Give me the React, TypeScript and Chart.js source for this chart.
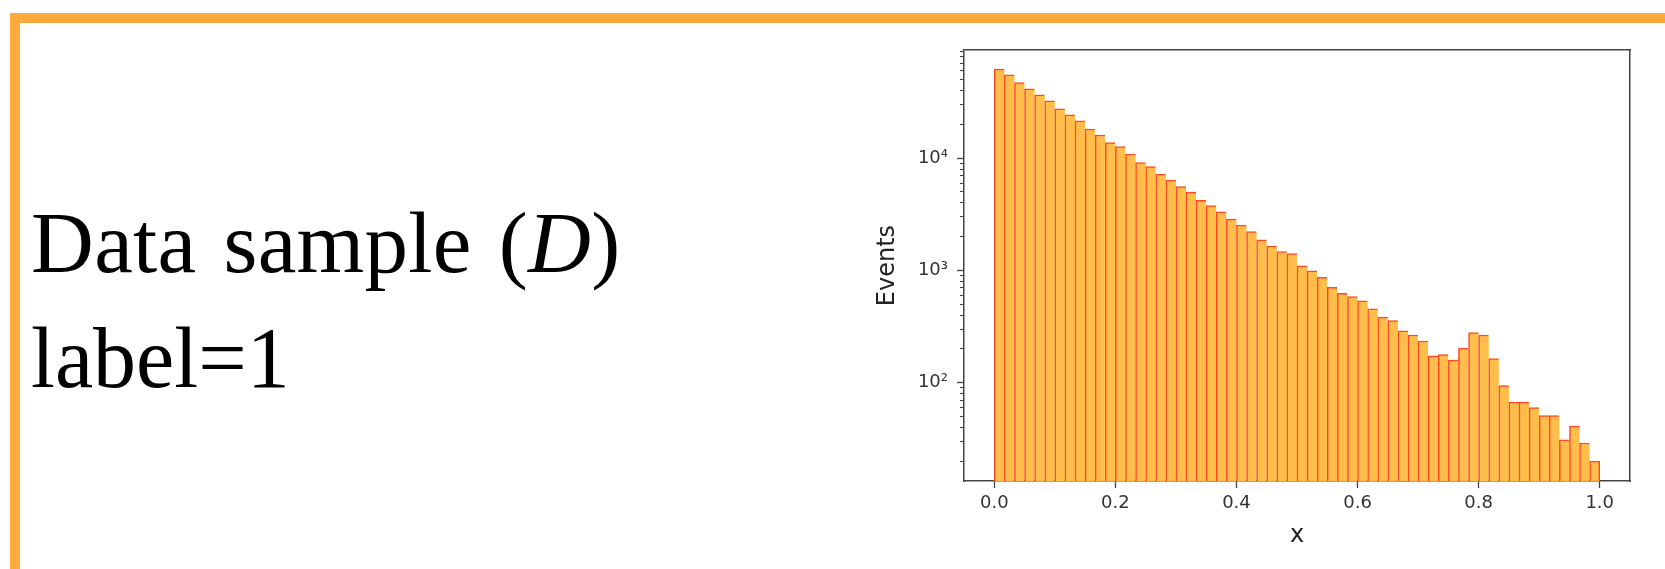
import React, { useEffect, useRef } from "react";
import { Chart, registerables } from "chart.js";

Chart.register(...registerables);

// Histogram of x on [0, 1], 60 equal-width bins, log-scaled counts.
const binCount = 60;
const binLow = 0;
const binHigh = 1;

const eventCounts = [
  62100, 55200, 47200, 41500, 36600, 32400, 27500, 24300, 21500, 18200,
  16100, 13800, 12700, 10900, 9140, 8420, 7200, 6370, 5580, 4980,
  4220, 3780, 3320, 2860, 2530, 2220, 1870, 1650, 1470, 1410,
  1100, 990, 870, 708, 626, 584, 535, 454, 383, 357,
  289, 266, 235, 173, 178, 159, 203, 279, 266, 164,
  94, 67, 67, 60, 51, 51, 31, 41, 29, 20,
];

const xTickValues = [0, 0.2, 0.4, 0.6, 0.8, 1.0];
const xRange = [-0.05, 1.05];

const yMajorTicks = [100, 1000, 10000];
const yMajorLabels = ["10\u00B2", "10\u00B3", "10\u2074"];
const yMinorTicks = [
  20, 30, 40, 50, 60, 70, 80, 90,
  200, 300, 400, 500, 600, 700, 800, 900,
  2000, 3000, 4000, 5000, 6000, 7000, 8000, 9000,
  20000, 30000, 40000, 50000, 60000, 70000, 80000, 90000,
];
const yRange = [13.3, 92000];

const xTitle = "x";
const yTitle = "Events";

const headingLine = "Data sample (";
const headingSymbol = "D";
const subLine = "label=1";

const barFill = "rgb(255, 190, 76)";
const barEdge = "rgb(255, 72, 36)";
const axisColor = "#444";
const tickTextColor = "#333";
const titleColor = "#222";
const frameColor = "#FFAA3B";
const sansFont = "'DejaVu Sans', sans-serif";

function HistogramChart() {
  const canvasRef = useRef<HTMLCanvasElement | null>(null);

  useEffect(() => {
    const canvas = canvasRef.current;
    if (!canvas) return;
    const binWidth = (binHigh - binLow) / binCount;
    const points = eventCounts.map((c, i) => ({ x: binLow + (i + 0.5) * binWidth, y: c }));
    const last = eventCounts.length - 1;

    const chart = new Chart(canvas, {
      type: "bar",
      data: {
        datasets: [
          {
            label: yTitle,
            data: points as any,
            backgroundColor: barFill,
            borderColor: barEdge,
            borderSkipped: false,
            borderWidth: (ctx: any) =>
              ctx.dataIndex === last
                ? { top: 1.5, left: 1.5, right: 1.5, bottom: 0 }
                : { top: 1.5, left: 1.5, right: 0, bottom: 0 },
            barPercentage: 1,
            categoryPercentage: 1,
          } as any,
        ],
      },
      options: {
        responsive: false,
        animation: false,
        devicePixelRatio: 1,
        layout: { autoPadding: false, padding: { top: 50, right: 35, bottom: 0, left: 0 } },
        plugins: { legend: { display: false }, tooltip: { enabled: false } },
        scales: {
          x: {
            type: "linear",
            min: xRange[0],
            max: xRange[1],
            offset: false,
            afterBuildTicks: (s: any) => {
              s.ticks = xTickValues.map((v) => ({ value: v }));
            },
            afterFit: (s: any) => {
              s.height = 88;
            },
            grid: {
              drawOnChartArea: false,
              drawTicks: true,
              tickLength: 7,
              tickWidth: 1.3,
              tickColor: axisColor,
              offset: false,
            },
            border: { display: true, color: axisColor, width: 1.5 },
            ticks: {
              color: tickTextColor,
              font: { family: sansFont, size: 18 },
              padding: 5,
              maxRotation: 0,
              autoSkip: false,
              callback: (v: any) => Number(v).toFixed(1),
            },
            title: {
              display: true,
              text: xTitle,
              color: titleColor,
              font: { family: sansFont, size: 24 },
              padding: { top: 0, bottom: 18.8 },
            },
          } as any,
          y: {
            type: "logarithmic",
            position: "left",
            weight: 1,
            min: yRange[0],
            max: yRange[1],
            beginAtZero: false,
            afterBuildTicks: (s: any) => {
              s.ticks = yMajorTicks.map((v) => ({ value: v, major: true }));
            },
            afterFit: (s: any) => {
              s.width = 114;
            },
            grid: {
              drawOnChartArea: false,
              tickLength: 7,
              tickWidth: 1.3,
              tickColor: axisColor,
            },
            border: { display: true, color: axisColor, width: 1.5 },
            ticks: {
              color: tickTextColor,
              font: { family: sansFont, size: 18 },
              padding: 9,
              autoSkip: false,
              callback: (v: any) => {
                const k = yMajorTicks.indexOf(Number(v));
                return k >= 0 ? yMajorLabels[k] : "";
              },
            },
            title: {
              display: true,
              text: yTitle,
              color: titleColor,
              font: { family: sansFont, size: 24 },
              padding: { top: 23.6, bottom: 0 },
            },
          } as any,
          yMinor: {
            type: "logarithmic",
            position: "left",
            weight: 0,
            min: yRange[0],
            max: yRange[1],
            afterBuildTicks: (s: any) => {
              s.ticks = yMinorTicks.map((v) => ({ value: v }));
            },
            afterFit: (s: any) => {
              s.width = 0;
            },
            grid: {
              drawOnChartArea: false,
              tickLength: 4,
              tickWidth: 1.1,
              tickColor: axisColor,
            },
            border: { display: false },
            ticks: { display: false },
          } as any,
          xTop: {
            type: "linear",
            position: "top",
            afterFit: (s: any) => {
              s.height = 0;
            },
            grid: { drawOnChartArea: false, drawTicks: false },
            border: { display: true, color: axisColor, width: 1.5 },
            ticks: { display: false },
          } as any,
          yRight: {
            type: "linear",
            position: "right",
            afterFit: (s: any) => {
              s.width = 0;
            },
            grid: { drawOnChartArea: false, drawTicks: false },
            border: { display: true, color: axisColor, width: 1.5 },
            ticks: { display: false },
          } as any,
        },
      },
    });
    return () => chart.destroy();
  }, []);

  return (
    <canvas
      ref={canvasRef}
      width={815}
      height={569}
      style={{ position: "absolute", left: 850, top: 0, width: 815, height: 569 }}
    />
  );
}

export default function App() {
  const textStyle: React.CSSProperties = {
    position: "absolute",
    left: 31,
    fontFamily: "'Liberation Serif', serif",
    fontSize: 86,
    lineHeight: "86px",
    color: "#000",
    whiteSpace: "nowrap",
  };
  return (
    <div
      style={{
        position: "fixed",
        left: 0,
        top: 0,
        width: 1665,
        height: 569,
        overflow: "hidden",
        background: "#fff",
      }}
    >
      <div
        style={{
          position: "absolute",
          left: 10,
          top: 13,
          width: 1700,
          height: 600,
          borderTop: `10px solid ${frameColor}`,
          borderLeft: `10px solid ${frameColor}`,
          boxSizing: "border-box",
        }}
      />
      <div
        style={{
          ...textStyle,
          fontSize: 87,
          lineHeight: "87px",
          top: 199.2,
          wordSpacing: 5,
          letterSpacing: 0.3,
        }}
      >
        {headingLine}
        <i>{headingSymbol}</i>)
      </div>
      <div style={{ ...textStyle, top: 314.7 }}>{subLine}</div>
      <HistogramChart />
    </div>
  );
}
